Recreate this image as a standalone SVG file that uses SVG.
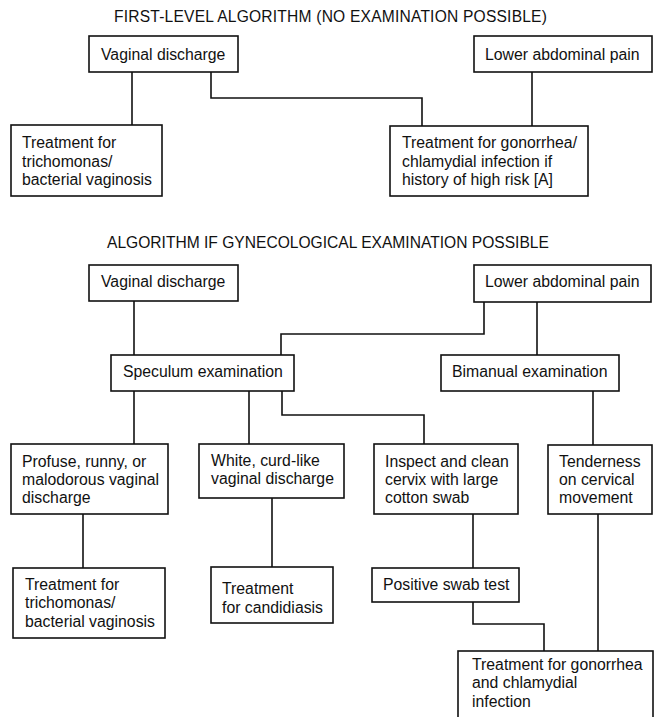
<svg xmlns="http://www.w3.org/2000/svg" width="657" height="717" viewBox="0 0 657 717">
<style>
  .box{fill:#fff;stroke:#111;stroke-width:1.6}
  .t{font-family:"Liberation Sans",Arial,sans-serif;font-size:15.8px;fill:#111}
  .title{font-family:"Liberation Sans",Arial,sans-serif;font-size:15.6px;fill:#111}
  .c{fill:none;stroke:#111;stroke-width:1.6}
</style>
<rect width="657" height="717" fill="#fff"/>
<text class="title" x="114" y="22" letter-spacing="0.2">FIRST-LEVEL ALGORITHM (NO EXAMINATION POSSIBLE)</text>
<text class="title" x="107" y="248">ALGORITHM IF GYNECOLOGICAL EXAMINATION POSSIBLE</text>

<g id="connectors">
  <path class="c" d="M132,72 V125"/>
  <path class="c" d="M211,72 V98 H422 V126"/>
  <path class="c" d="M532,72 V126"/>
  <path class="c" d="M134,301 V355"/>
  <path class="c" d="M484,302 V334 H281 V355"/>
  <path class="c" d="M537,302 V355"/>
  <path class="c" d="M134,391 V444"/>
  <path class="c" d="M249,391 V444"/>
  <path class="c" d="M282,391 V415 H424 V444"/>
  <path class="c" d="M593,391 V445"/>
  <path class="c" d="M83,514 V568"/>
  <path class="c" d="M272,498 V567"/>
  <path class="c" d="M473,514 V568"/>
  <path class="c" d="M473,602 V624 H544 V651"/>
  <path class="c" d="M598,514 V651"/>
</g>

<g id="n1"><rect class="box" x="89" y="36" width="149" height="36"/><text class="t" x="101" y="60">Vaginal discharge</text></g>
<g id="n2"><rect class="box" x="474" y="36" width="178" height="36"/><text class="t" x="485" y="60">Lower abdominal pain</text></g>
<g id="n3"><rect class="box" x="11" y="125" width="151" height="71"/>
  <text class="t" x="22" y="148">Treatment for</text><text class="t" x="22" y="167">trichomonas/</text><text class="t" x="22" y="185">bacterial vaginosis</text></g>
<g id="n4"><rect class="box" x="390" y="126" width="198" height="70"/>
  <text class="t" x="402" y="148">Treatment for gonorrhea/</text><text class="t" x="402" y="167">chlamydial infection if</text><text class="t" x="402" y="185">history of high risk [A]</text></g>

<g id="n5"><rect class="box" x="89" y="265" width="149" height="36"/><text class="t" x="101" y="287">Vaginal discharge</text></g>
<g id="n6"><rect class="box" x="474" y="265" width="177" height="37"/><text class="t" x="485" y="287">Lower abdominal pain</text></g>
<g id="n7"><rect class="box" x="111" y="355" width="183" height="36"/><text class="t" x="123" y="377">Speculum examination</text></g>
<g id="n8"><rect class="box" x="441" y="355" width="178" height="36"/><text class="t" x="452" y="377">Bimanual examination</text></g>

<g id="n9"><rect class="box" x="11" y="444" width="157" height="70"/>
  <text class="t" x="22" y="467">Profuse, runny, or</text><text class="t" x="22" y="485">malodorous vaginal</text><text class="t" x="22" y="503">discharge</text></g>
<g id="n10"><rect class="box" x="199" y="444" width="145" height="54"/>
  <text class="t" x="211" y="466">White, curd-like</text><text class="t" x="211" y="484">vaginal discharge</text></g>
<g id="n11"><rect class="box" x="374" y="444" width="144" height="70"/>
  <text class="t" x="385" y="467">Inspect and clean</text><text class="t" x="385" y="485">cervix with large</text><text class="t" x="385" y="503">cotton swab</text></g>
<g id="n12"><rect class="box" x="548" y="445" width="104" height="69"/>
  <text class="t" x="559" y="467">Tenderness</text><text class="t" x="559" y="485">on cervical</text><text class="t" x="559" y="503">movement</text></g>

<g id="n13"><rect class="box" x="13" y="568" width="152" height="70"/>
  <text class="t" x="25" y="590">Treatment for</text><text class="t" x="25" y="608">trichomonas/</text><text class="t" x="25" y="627">bacterial vaginosis</text></g>
<g id="n14"><rect class="box" x="211" y="567" width="122" height="56"/>
  <text class="t" x="222" y="594">Treatment</text><text class="t" x="222" y="613">for candidiasis</text></g>
<g id="n15"><rect class="box" x="372" y="568" width="147" height="34"/>
  <text class="t" x="383" y="590">Positive swab test</text></g>
<g id="n16"><rect class="box" x="458" y="651" width="195" height="76"/>
  <text class="t" x="472" y="670">Treatment for gonorrhea</text><text class="t" x="472" y="688">and chlamydial</text><text class="t" x="472" y="707">infection</text></g>
</svg>
